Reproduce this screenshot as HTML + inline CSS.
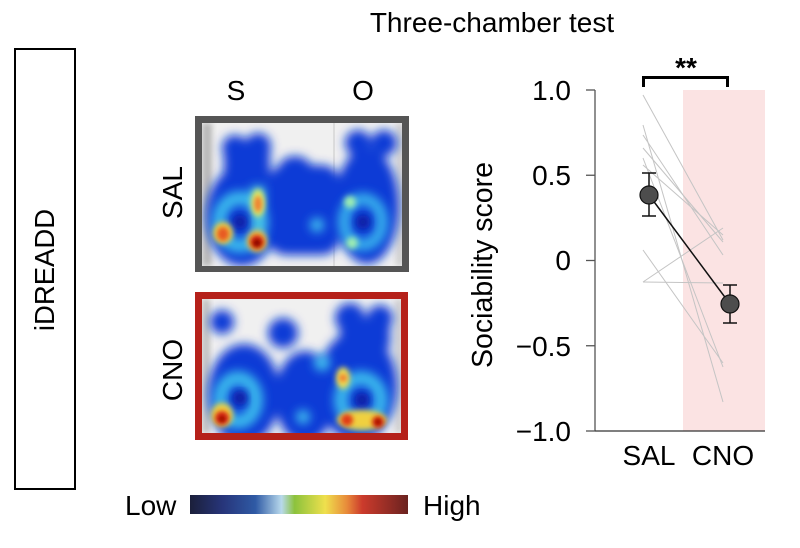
<!DOCTYPE html>
<html>
<head>
<meta charset="utf-8">
<style>
  html,body{margin:0;padding:0;background:#fff;}
  svg{display:block;}
  text{font-family:"Liberation Sans", Arial, sans-serif; fill:#000;}
</style>
</head>
<body>
<svg width="800" height="548" viewBox="0 0 800 548" xmlns="http://www.w3.org/2000/svg">
  <defs>
    <filter id="b5" x="-30%" y="-30%" width="160%" height="160%"><feGaussianBlur stdDeviation="5"/></filter>
    <filter id="b4" x="-30%" y="-30%" width="160%" height="160%"><feGaussianBlur stdDeviation="4"/></filter>
    <filter id="b3" x="-50%" y="-50%" width="200%" height="200%"><feGaussianBlur stdDeviation="3"/></filter>
    <filter id="b2" x="-50%" y="-50%" width="200%" height="200%"><feGaussianBlur stdDeviation="2.5"/></filter>
    <clipPath id="c1"><rect x="202" y="123" width="200" height="143"/></clipPath>
    <clipPath id="c2"><rect x="202" y="299" width="199" height="134"/></clipPath>
    <linearGradient id="cmap" x1="0" x2="1" y1="0" y2="0">
      <stop offset="0" stop-color="#1b1f3a"/>
      <stop offset="0.15" stop-color="#27357a"/>
      <stop offset="0.30" stop-color="#2f5aa5"/>
      <stop offset="0.42" stop-color="#b8d9ec"/>
      <stop offset="0.48" stop-color="#8cc23c"/>
      <stop offset="0.62" stop-color="#efe04d"/>
      <stop offset="0.72" stop-color="#e88a3a"/>
      <stop offset="0.79" stop-color="#cc3b2c"/>
      <stop offset="1" stop-color="#6a2220"/>
    </linearGradient>
  </defs>

  <text x="492" y="32" font-size="28" text-anchor="middle">Three-chamber test</text>

  <rect x="15" y="49" width="60" height="440" fill="none" stroke="#000" stroke-width="2"/>
  <text transform="translate(54,270) rotate(-90)" font-size="27.5" text-anchor="middle">iDREADD</text>

  <text x="236" y="100" font-size="28" text-anchor="middle">S</text>
  <text x="363" y="100" font-size="28" text-anchor="middle">O</text>

  <text transform="translate(182,192.5) rotate(-90)" font-size="28" text-anchor="middle">SAL</text>
  <text transform="translate(182,370) rotate(-90)" font-size="28" text-anchor="middle">CNO</text>

  <!-- SAL heatmap -->
  <rect x="195" y="116" width="214" height="156" fill="#555" />
  <g clip-path="url(#c1)">
    <rect x="202" y="123" width="200" height="143" fill="#f0f0f0"/>
    <rect x="202" y="123" width="10" height="143" fill="#b8b8b8" filter="url(#b3)"/>
    <rect x="396" y="123" width="8" height="143" fill="#cfcfcf" filter="url(#b3)"/>
    <rect x="333" y="123" width="2" height="143" fill="#dcdcdc"/>
    <g fill="#0d3ad6" filter="url(#b5)">
      <ellipse cx="242" cy="216" rx="36" ry="50"/>
      <circle cx="235" cy="148" r="13"/>
      <circle cx="258" cy="146" r="13"/>
      <rect x="224" y="150" width="46" height="30"/>
      <rect x="268" y="165" width="72" height="90" rx="18"/>
      <ellipse cx="295" cy="168" rx="16" ry="12"/>
      <ellipse cx="367" cy="206" rx="32" ry="58"/>
      <circle cx="358" cy="143" r="13"/>
      <circle cx="384" cy="143" r="13"/>
    </g>
    <g filter="url(#b5)" fill="none" opacity="0.9">
      <ellipse cx="240" cy="222" rx="21" ry="24" stroke="#3fc8f0" stroke-width="14"/>
      <line x1="258" y1="186" x2="258" y2="250" stroke="#50d8e8" stroke-width="14"/>
      <ellipse cx="363" cy="222" rx="19" ry="23" stroke="#3cc0f0" stroke-width="12"/>
      <circle cx="317" cy="225" r="7" fill="#47d0f2"/>
    </g>
    <circle cx="240" cy="222" r="7" fill="#0a1fa0" filter="url(#b4)"/>
    <circle cx="363" cy="222" r="7" fill="#0a1fa0" filter="url(#b4)"/>
    <g filter="url(#b3)">
      <ellipse cx="258" cy="203" rx="7" ry="14" fill="#e0e860"/>
      <ellipse cx="223" cy="233" rx="10" ry="11" fill="#f0d040"/>
      <ellipse cx="257" cy="241" rx="10" ry="11" fill="#f0c040"/>
      <circle cx="350" cy="202" r="6" fill="#a0f0b0"/>
      <circle cx="352" cy="243" r="6" fill="#a0f0b0"/>
    </g>
    <g filter="url(#b2)">
      <ellipse cx="258" cy="204" rx="4" ry="8" fill="#f08030"/>
      <ellipse cx="223" cy="234" rx="6" ry="7" fill="#e85a20"/>
      <circle cx="257" cy="242" r="7" fill="#d82010"/>
      <circle cx="257" cy="243" r="4" fill="#7a0000"/>
    </g>
  </g>

  <!-- CNO heatmap -->
  <rect x="195" y="292" width="213" height="148" fill="#b5211a"/>
  <g clip-path="url(#c2)">
    <rect x="202" y="299" width="199" height="134" fill="#f0f0f0"/>
    <rect x="202" y="299" width="8" height="134" fill="#c0c0c0" filter="url(#b3)"/>
    <rect x="395" y="299" width="8" height="134" fill="#cfcfcf" filter="url(#b3)"/>
    <g fill="#0d3ad6" filter="url(#b5)">
      <circle cx="222" cy="322" r="12"/>
      <circle cx="283" cy="333" r="15"/>
      <circle cx="350" cy="318" r="15"/>
      <circle cx="380" cy="318" r="13"/>
      <rect x="340" y="318" width="50" height="30"/>
      <ellipse cx="244" cy="394" rx="36" ry="50"/>
      <ellipse cx="305" cy="397" rx="30" ry="46"/>
      <ellipse cx="357" cy="386" rx="40" ry="55"/>
    </g>
    <g filter="url(#b5)" fill="none" opacity="0.9">
      <ellipse cx="238" cy="400" rx="18" ry="22" stroke="#3fc8f0" stroke-width="14"/>
      <ellipse cx="361" cy="400" rx="20" ry="22" stroke="#3fc8f0" stroke-width="14"/>
      <circle cx="322" cy="363" r="8" fill="#47d0f2"/>
      <circle cx="303" cy="417" r="7" fill="#47d0f2"/>
    </g>
    <circle cx="240" cy="398" r="7" fill="#0a1fa0" filter="url(#b4)"/>
    <circle cx="362" cy="400" r="7" fill="#0a1fa0" filter="url(#b4)"/>
    <g filter="url(#b3)">
      <ellipse cx="222" cy="415" rx="11" ry="12" fill="#f0d040"/>
      <ellipse cx="343" cy="378" rx="7" ry="11" fill="#f0e050"/>
      <ellipse cx="362" cy="420" rx="25" ry="10" fill="#f0d040"/>
    </g>
    <g filter="url(#b2)">
      <circle cx="222" cy="418" r="7" fill="#d82010"/>
      <circle cx="343" cy="378" r="4" fill="#f08030"/>
      <circle cx="347" cy="420" r="6" fill="#e03a18"/>
      <circle cx="378" cy="422" r="6" fill="#d82010"/>
      <circle cx="222" cy="419" r="3" fill="#7a0000"/>
      <circle cx="378" cy="422" r="3" fill="#8a0000"/>
    </g>
  </g>

  <text x="125" y="515" font-size="28">Low</text>
  <rect x="190" y="495" width="218" height="19" fill="url(#cmap)"/>
  <text x="423" y="515" font-size="28">High</text>

  <rect x="683" y="90" width="82" height="341" fill="#fbe3e3"/>
  <g stroke="#c4c4c4" stroke-width="1">
    <line x1="643" y1="95" x2="723" y2="240"/>
    <line x1="643" y1="125" x2="723" y2="402"/>
    <line x1="643" y1="135" x2="723" y2="255"/>
    <line x1="643" y1="148" x2="723" y2="242"/>
    <line x1="643" y1="158" x2="723" y2="367"/>
    <line x1="643" y1="165" x2="723" y2="235"/>
    <line x1="643" y1="250" x2="723" y2="363"/>
    <line x1="643" y1="282" x2="723" y2="228"/>
    <line x1="643" y1="282" x2="723" y2="283"/>
  </g>
  <line x1="595" y1="90" x2="595" y2="431" stroke="#555" stroke-width="1.3"/>
  <line x1="595" y1="431" x2="765" y2="431" stroke="#333" stroke-width="1.3"/>
  <g stroke="#555" stroke-width="1.3">
    <line x1="586" y1="90" x2="595" y2="90"/>
    <line x1="586" y1="175.25" x2="595" y2="175.25"/>
    <line x1="586" y1="260.5" x2="595" y2="260.5"/>
    <line x1="586" y1="345.75" x2="595" y2="345.75"/>
    <line x1="586" y1="431" x2="595" y2="431"/>
  </g>
  <g font-size="28" text-anchor="end">
    <text x="571" y="100">1.0</text>
    <text x="571" y="185">0.5</text>
    <text x="571" y="270">0</text>
    <text x="571" y="356">−0.5</text>
    <text x="571" y="441">−1.0</text>
  </g>
  <text transform="translate(492,265) rotate(-90)" font-size="28.5" text-anchor="middle">Sociability score</text>
  <text x="649" y="465" font-size="28" text-anchor="middle">SAL</text>
  <text x="723" y="465" font-size="28" text-anchor="middle">CNO</text>

  <line x1="649" y1="195" x2="730" y2="304" stroke="#111" stroke-width="1.5"/>
  <g stroke="#111" stroke-width="1.5">
    <line x1="649" y1="173" x2="649" y2="216"/>
    <line x1="642" y1="173" x2="656" y2="173"/>
    <line x1="642" y1="216" x2="656" y2="216"/>
    <line x1="730" y1="285" x2="730" y2="323"/>
    <line x1="723" y1="285" x2="737" y2="285"/>
    <line x1="723" y1="323" x2="737" y2="323"/>
  </g>
  <circle cx="649" cy="195" r="9" fill="#4d4d4d" stroke="#111" stroke-width="1.2"/>
  <circle cx="730" cy="304" r="9" fill="#4d4d4d" stroke="#111" stroke-width="1.2"/>

  <path d="M643.5,87 V77.5 H727.5 V87" fill="none" stroke="#000" stroke-width="3"/>
  <text x="686" y="77" font-size="28" text-anchor="middle" font-weight="bold">**</text>
</svg>
</body>
</html>
